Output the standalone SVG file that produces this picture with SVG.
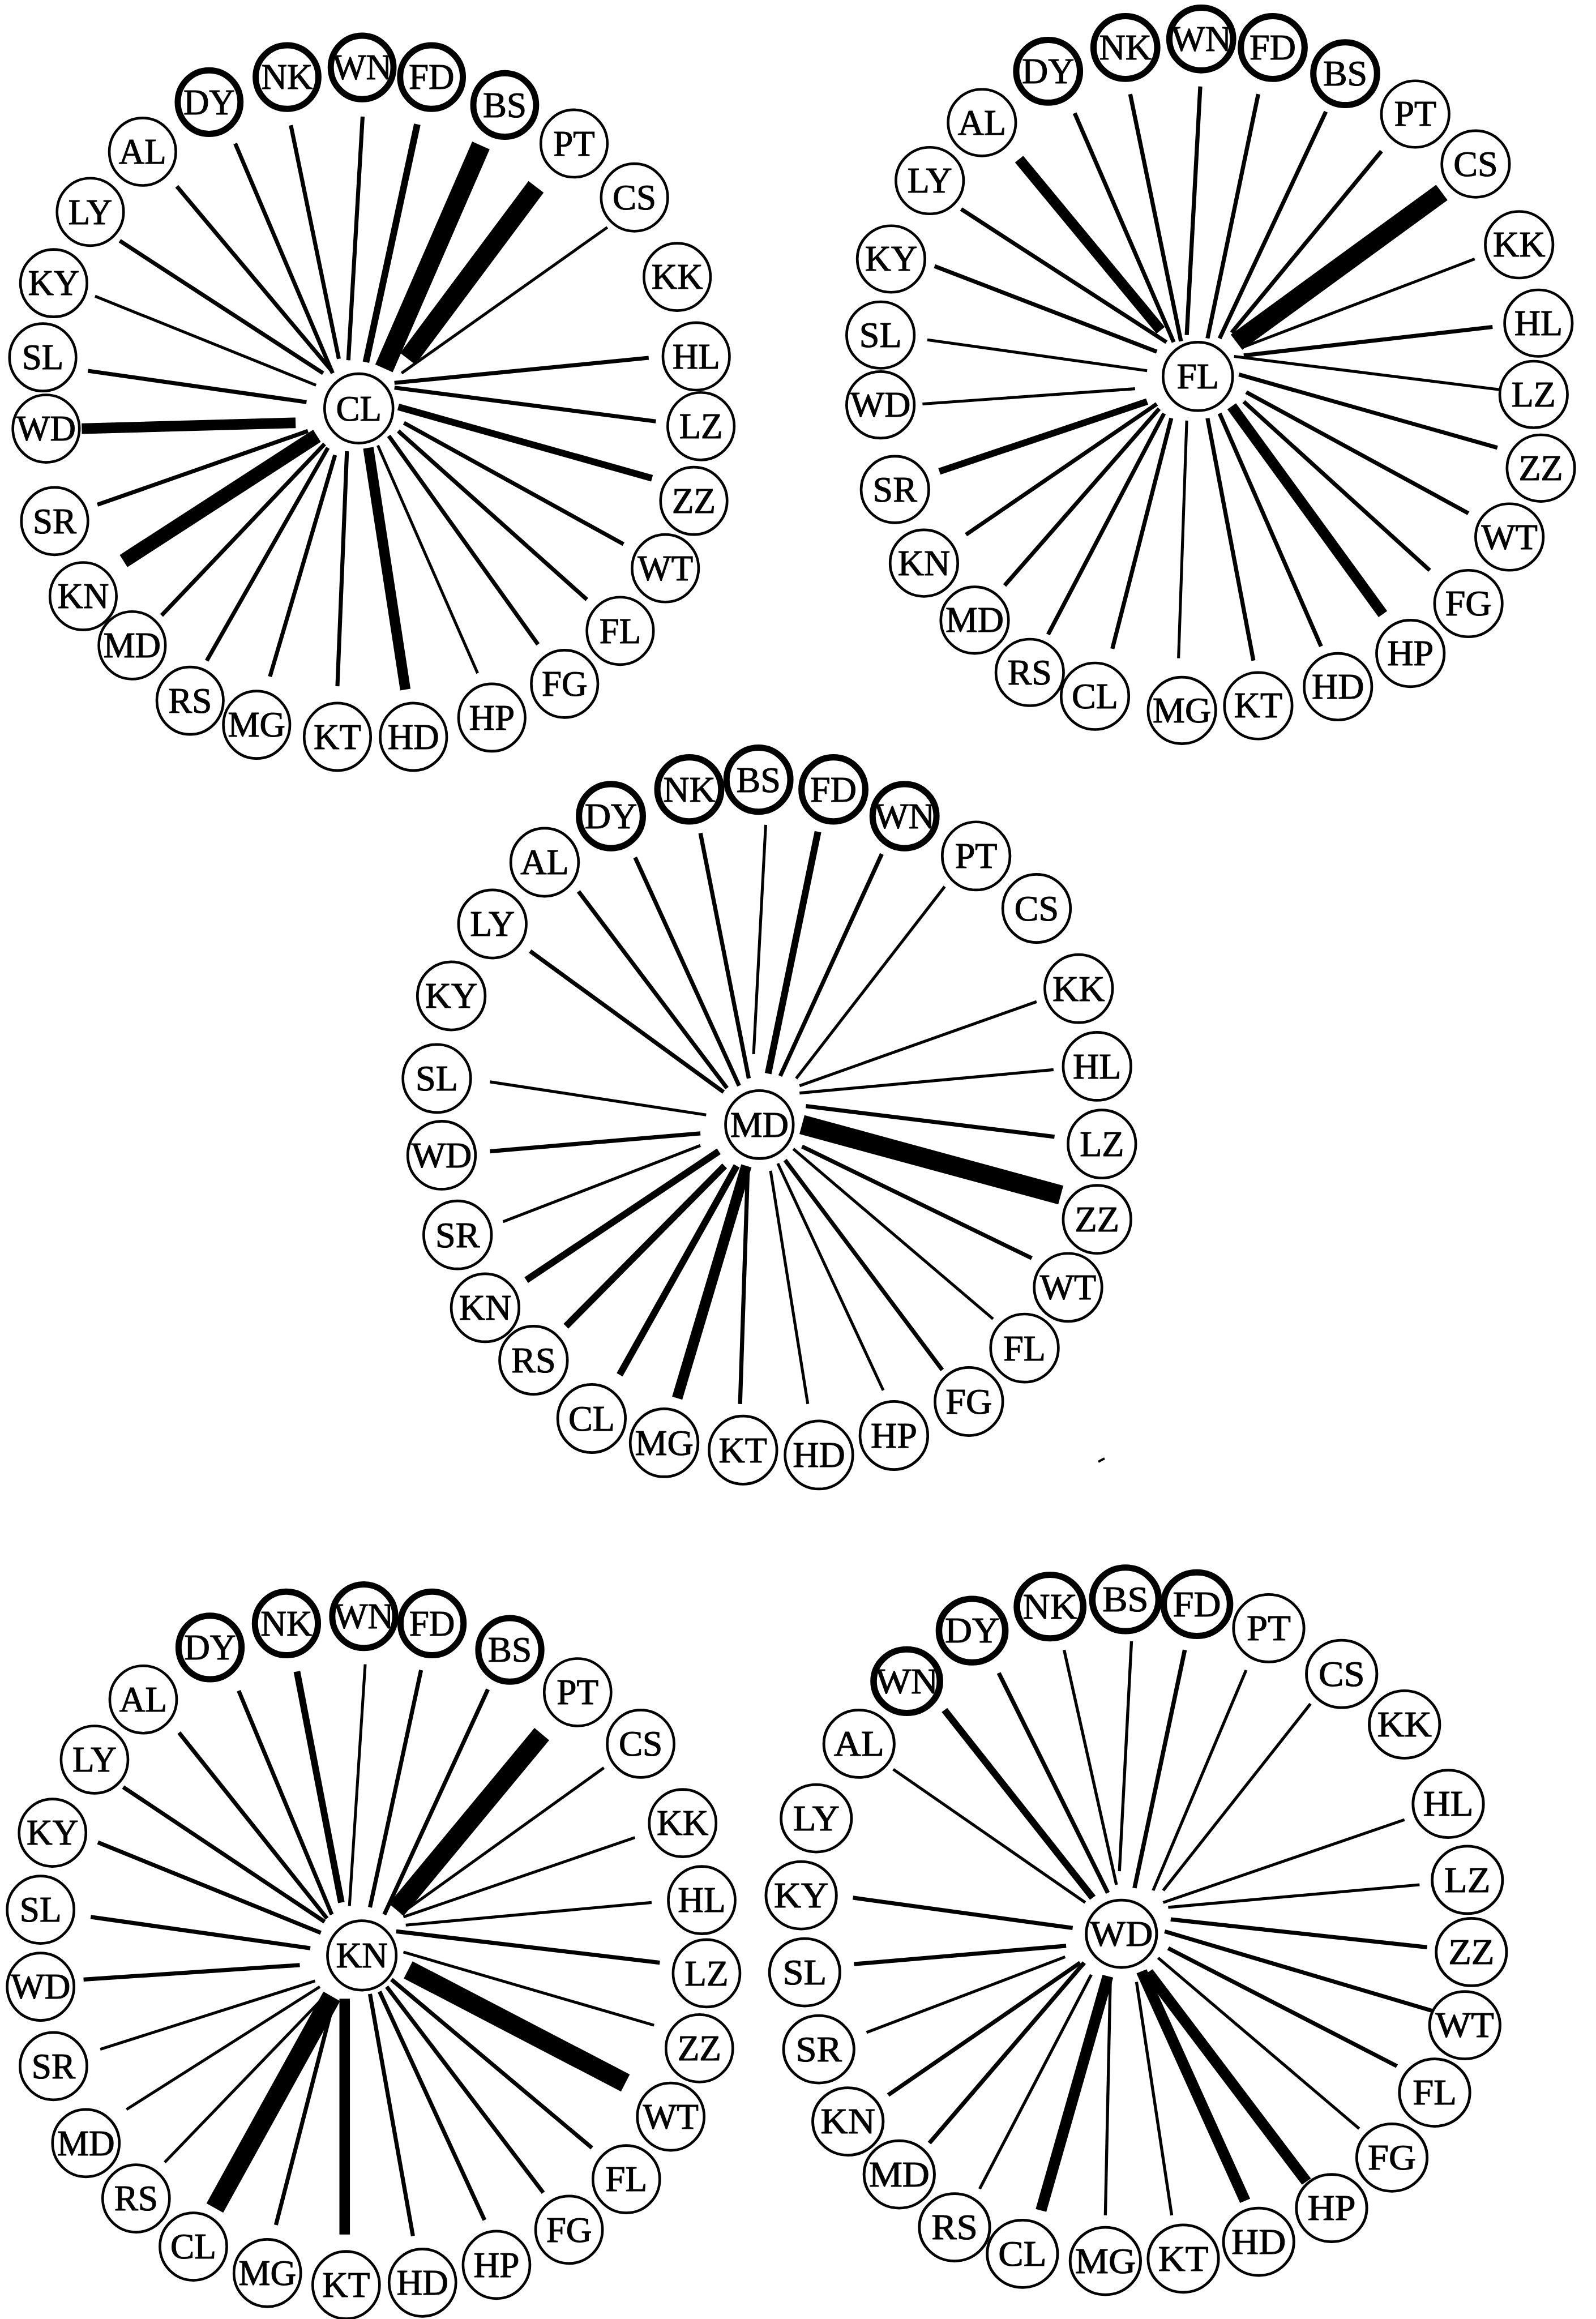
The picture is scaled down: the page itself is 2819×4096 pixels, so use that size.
<svg xmlns="http://www.w3.org/2000/svg" width="2819" height="4096" viewBox="0 0 2819 4096">
<style>
.n circle{fill:#fff;stroke:#000;stroke-width:5.5}
.n.b circle{stroke-width:13}
.n text{font-family:"Liberation Serif","DejaVu Serif",serif;font-size:75px;text-anchor:middle;fill:#000;stroke:#000;stroke-width:1.3}
.e line{stroke:#000;stroke-linecap:butt}
.s{stroke-width:6}.t{stroke-width:8.5}.m{stroke-width:14}.k{stroke-width:22}.w{stroke-width:30}.x{stroke-width:40}
</style>
<rect width="2819" height="4096" fill="#fff"/>

<g id="wheel-CL" transform="matrix(0.8394 0 0 0.8506 0 0)">
<g id="w1-edges" class="e">
<line class="t" x1="372" y1="387" x2="698" y2="770"/>
<line class="t" x1="252" y1="500" x2="680" y2="775"/>
<line class="s" x1="200" y1="615" x2="665" y2="800"/>
<line class="t" x1="185" y1="770" x2="645" y2="835"/>
<line class="k" x1="172" y1="890" x2="622" y2="878"/>
<line class="t" x1="205" y1="1048" x2="648" y2="895"/>
<line class="w" x1="260" y1="1165" x2="667" y2="905"/>
<line class="t" x1="340" y1="1278" x2="683" y2="922"/>
<line class="t" x1="435" y1="1372" x2="690" y2="930"/>
<line class="t" x1="568" y1="1405" x2="705" y2="945"/>
<line class="t" x1="710" y1="1425" x2="730" y2="937"/>
<line class="k" x1="853" y1="1432" x2="775" y2="930"/>
<line class="s" x1="1005" y1="1398" x2="795" y2="925"/>
<line class="t" x1="1132" y1="1338" x2="818" y2="905"/>
<line class="t" x1="1235" y1="1245" x2="838" y2="895"/>
<line class="t" x1="1312" y1="1130" x2="850" y2="878"/>
<line class="m" x1="1372" y1="993" x2="838" y2="845"/>
<line class="t" x1="1380" y1="875" x2="830" y2="805"/>
<line class="t" x1="1365" y1="743" x2="830" y2="795"/>
<line class="s" x1="1278" y1="472" x2="845" y2="775"/>
<line class="x" x1="1128" y1="388" x2="858" y2="745"/>
<line class="x" x1="1012" y1="302" x2="808" y2="765"/>
<line class="m" x1="878" y1="258" x2="770" y2="752"/>
<line class="t" x1="763" y1="242" x2="733" y2="748"/>
<line class="t" x1="612" y1="260" x2="713" y2="745"/>
<line class="t" x1="495" y1="298" x2="700" y2="775"/>
</g>
<g id="w1-CL" class="n"><circle cx="755" cy="848" r="72"/><text x="755" y="873">CL</text></g>
<g id="w1-DY" class="n b"><circle cx="440" cy="212" r="66"/><text x="440" y="237">DY</text></g>
<g id="w1-NK" class="n b"><circle cx="604" cy="160" r="66"/><text x="604" y="185">NK</text></g>
<g id="w1-WN" class="n b"><circle cx="762" cy="140" r="66"/><text x="762" y="165">WN</text></g>
<g id="w1-FD" class="n b"><circle cx="908" cy="160" r="66"/><text x="908" y="185">FD</text></g>
<g id="w1-BS" class="n b"><circle cx="1062" cy="218" r="66"/><text x="1062" y="243">BS</text></g>
<g id="w1-PT" class="n"><circle cx="1208" cy="298" r="70"/><text x="1208" y="323">PT</text></g>
<g id="w1-CS" class="n"><circle cx="1335" cy="410" r="70"/><text x="1335" y="435">CS</text></g>
<g id="w1-KK" class="n"><circle cx="1425" cy="575" r="70"/><text x="1425" y="600">KK</text></g>
<g id="w1-HL" class="n"><circle cx="1465" cy="740" r="70"/><text x="1465" y="765">HL</text></g>
<g id="w1-LZ" class="n"><circle cx="1475" cy="885" r="70"/><text x="1475" y="910">LZ</text></g>
<g id="w1-ZZ" class="n"><circle cx="1460" cy="1040" r="70"/><text x="1460" y="1065">ZZ</text></g>
<g id="w1-WT" class="n"><circle cx="1400" cy="1180" r="70"/><text x="1400" y="1205">WT</text></g>
<g id="w1-FL" class="n"><circle cx="1305" cy="1310" r="70"/><text x="1305" y="1335">FL</text></g>
<g id="w1-FG" class="n"><circle cx="1188" cy="1420" r="70"/><text x="1188" y="1445">FG</text></g>
<g id="w1-HP" class="n"><circle cx="1035" cy="1490" r="70"/><text x="1035" y="1515">HP</text></g>
<g id="w1-HD" class="n"><circle cx="870" cy="1530" r="70"/><text x="870" y="1555">HD</text></g>
<g id="w1-KT" class="n"><circle cx="710" cy="1530" r="70"/><text x="710" y="1555">KT</text></g>
<g id="w1-MG" class="n"><circle cx="540" cy="1505" r="70"/><text x="540" y="1530">MG</text></g>
<g id="w1-RS" class="n"><circle cx="400" cy="1455" r="70"/><text x="400" y="1480">RS</text></g>
<g id="w1-MD" class="n"><circle cx="278" cy="1340" r="70"/><text x="278" y="1365">MD</text></g>
<g id="w1-KN" class="n"><circle cx="175" cy="1238" r="70"/><text x="175" y="1263">KN</text></g>
<g id="w1-SR" class="n"><circle cx="115" cy="1082" r="70"/><text x="115" y="1107">SR</text></g>
<g id="w1-WD" class="n"><circle cx="97" cy="890" r="70"/><text x="97" y="915">WD</text></g>
<g id="w1-SL" class="n"><circle cx="90" cy="742" r="70"/><text x="90" y="767">SL</text></g>
<g id="w1-KY" class="n"><circle cx="113" cy="588" r="70"/><text x="113" y="613">KY</text></g>
<g id="w1-LY" class="n"><circle cx="190" cy="440" r="70"/><text x="190" y="465">LY</text></g>
<g id="w1-AL" class="n"><circle cx="300" cy="315" r="70"/><text x="300" y="340">AL</text></g>
</g>

<g id="wheel-FL" transform="matrix(0.8533 0 0 0.8394 1480.05 0)">
<g id="w2-edges" class="e">
<line class="k" x1="375" y1="335" x2="668" y2="695"/>
<line class="t" x1="255" y1="440" x2="680" y2="720"/>
<line class="t" x1="200" y1="560" x2="660" y2="740"/>
<line class="s" x1="185" y1="715" x2="640" y2="780"/>
<line class="s" x1="175" y1="850" x2="615" y2="818"/>
<line class="m" x1="210" y1="992" x2="640" y2="845"/>
<line class="t" x1="265" y1="1125" x2="660" y2="850"/>
<line class="t" x1="345" y1="1232" x2="665" y2="860"/>
<line class="t" x1="435" y1="1335" x2="675" y2="870"/>
<line class="t" x1="568" y1="1365" x2="690" y2="880"/>
<line class="s" x1="705" y1="1385" x2="722" y2="885"/>
<line class="t" x1="860" y1="1390" x2="765" y2="880"/>
<line class="t" x1="1000" y1="1360" x2="790" y2="870"/>
<line class="k" x1="1128" y1="1292" x2="815" y2="855"/>
<line class="t" x1="1225" y1="1200" x2="840" y2="845"/>
<line class="t" x1="1305" y1="1080" x2="845" y2="825"/>
<line class="t" x1="1365" y1="942" x2="830" y2="788"/>
<line class="s" x1="1370" y1="820" x2="820" y2="750"/>
<line class="t" x1="1355" y1="688" x2="840" y2="748"/>
<line class="s" x1="1318" y1="545" x2="840" y2="730"/>
<line class="x" x1="1250" y1="405" x2="825" y2="720"/>
<line class="t" x1="1125" y1="318" x2="815" y2="700"/>
<line class="t" x1="1010" y1="235" x2="790" y2="712"/>
<line class="t" x1="870" y1="198" x2="765" y2="712"/>
<line class="t" x1="750" y1="182" x2="722" y2="705"/>
<line class="t" x1="605" y1="198" x2="710" y2="718"/>
<line class="t" x1="490" y1="238" x2="695" y2="720"/>
</g>
<g id="w2-FL" class="n"><circle cx="745" cy="792" r="72"/><text x="745" y="817">FL</text></g>
<g id="w2-DY" class="n b"><circle cx="435" cy="150" r="66"/><text x="435" y="175">DY</text></g>
<g id="w2-NK" class="n b"><circle cx="595" cy="100" r="66"/><text x="595" y="125">NK</text></g>
<g id="w2-WN" class="n b"><circle cx="752" cy="82" r="66"/><text x="752" y="107">WN</text></g>
<g id="w2-FD" class="n b"><circle cx="900" cy="100" r="66"/><text x="900" y="125">FD</text></g>
<g id="w2-BS" class="n b"><circle cx="1050" cy="155" r="66"/><text x="1050" y="180">BS</text></g>
<g id="w2-PT" class="n"><circle cx="1195" cy="240" r="70"/><text x="1195" y="265">PT</text></g>
<g id="w2-CS" class="n"><circle cx="1320" cy="345" r="70"/><text x="1320" y="370">CS</text></g>
<g id="w2-KK" class="n"><circle cx="1410" cy="515" r="70"/><text x="1410" y="540">KK</text></g>
<g id="w2-HL" class="n"><circle cx="1450" cy="680" r="70"/><text x="1450" y="705">HL</text></g>
<g id="w2-LZ" class="n"><circle cx="1440" cy="830" r="70"/><text x="1440" y="855">LZ</text></g>
<g id="w2-ZZ" class="n"><circle cx="1455" cy="985" r="70"/><text x="1455" y="1010">ZZ</text></g>
<g id="w2-WT" class="n"><circle cx="1390" cy="1130" r="70"/><text x="1390" y="1155">WT</text></g>
<g id="w2-FG" class="n"><circle cx="1305" cy="1270" r="70"/><text x="1305" y="1295">FG</text></g>
<g id="w2-HP" class="n"><circle cx="1185" cy="1375" r="70"/><text x="1185" y="1400">HP</text></g>
<g id="w2-HD" class="n"><circle cx="1035" cy="1445" r="70"/><text x="1035" y="1470">HD</text></g>
<g id="w2-KT" class="n"><circle cx="870" cy="1485" r="70"/><text x="870" y="1510">KT</text></g>
<g id="w2-MG" class="n"><circle cx="712" cy="1495" r="70"/><text x="712" y="1520">MG</text></g>
<g id="w2-CL" class="n"><circle cx="532" cy="1465" r="70"/><text x="532" y="1490">CL</text></g>
<g id="w2-RS" class="n"><circle cx="397" cy="1415" r="70"/><text x="397" y="1440">RS</text></g>
<g id="w2-MD" class="n"><circle cx="283" cy="1305" r="70"/><text x="283" y="1330">MD</text></g>
<g id="w2-KN" class="n"><circle cx="178" cy="1185" r="70"/><text x="178" y="1210">KN</text></g>
<g id="w2-SR" class="n"><circle cx="118" cy="1030" r="70"/><text x="118" y="1055">SR</text></g>
<g id="w2-WD" class="n"><circle cx="88" cy="852" r="70"/><text x="88" y="877">WD</text></g>
<g id="w2-SL" class="n"><circle cx="88" cy="705" r="70"/><text x="88" y="730">SL</text></g>
<g id="w2-KY" class="n"><circle cx="110" cy="545" r="70"/><text x="110" y="570">KY</text></g>
<g id="w2-LY" class="n"><circle cx="190" cy="380" r="70"/><text x="190" y="405">LY</text></g>
<g id="w2-AL" class="n"><circle cx="298" cy="258" r="70"/><text x="298" y="283">AL</text></g>
</g>

<g id="wheel-MD" transform="matrix(0.8544 0 0 0.8581 690.3 1287)">
<g id="w3-edges" class="e">
<line class="s" x1="205" y1="727" x2="652" y2="795"/>
<line class="t" x1="205" y1="870" x2="640" y2="833"/>
<line class="s" x1="232" y1="1015" x2="640" y2="858"/>
<line class="m" x1="280" y1="1135" x2="678" y2="870"/>
<line class="m" x1="362" y1="1230" x2="690" y2="900"/>
<line class="m" x1="473" y1="1330" x2="715" y2="900"/>
<line class="k" x1="592" y1="1378" x2="735" y2="900"/>
<line class="t" x1="722" y1="1390" x2="738" y2="905"/>
<line class="s" x1="862" y1="1390" x2="785" y2="910"/>
<line class="s" x1="1018" y1="1362" x2="800" y2="895"/>
<line class="t" x1="1140" y1="1320" x2="815" y2="888"/>
<line class="s" x1="1245" y1="1215" x2="832" y2="865"/>
<line class="t" x1="1325" y1="1090" x2="850" y2="860"/>
<line class="x" x1="1385" y1="960" x2="850" y2="815"/>
<line class="t" x1="1372" y1="840" x2="858" y2="777"/>
<line class="s" x1="1370" y1="702" x2="845" y2="750"/>
<line class="s" x1="1335" y1="562" x2="845" y2="735"/>
<line class="s" x1="1145" y1="325" x2="838" y2="720"/>
<line class="t" x1="1015" y1="258" x2="805" y2="715"/>
<line class="m" x1="883" y1="212" x2="780" y2="710"/>
<line class="s" x1="775" y1="198" x2="750" y2="670"/>
<line class="t" x1="640" y1="215" x2="740" y2="720"/>
<line class="t" x1="505" y1="265" x2="720" y2="735"/>
<line class="t" x1="388" y1="335" x2="695" y2="740"/>
<line class="t" x1="288" y1="458" x2="688" y2="748"/>
</g>
<g id="w3-MD" class="n"><circle cx="762" cy="815" r="70"/><text x="762" y="840">MD</text></g>
<g id="w3-DY" class="n b"><circle cx="455" cy="180" r="66"/><text x="455" y="205">DY</text></g>
<g id="w3-NK" class="n b"><circle cx="617" cy="125" r="66"/><text x="617" y="150">NK</text></g>
<g id="w3-BS" class="n b"><circle cx="760" cy="105" r="66"/><text x="760" y="130">BS</text></g>
<g id="w3-FD" class="n b"><circle cx="915" cy="125" r="66"/><text x="915" y="150">FD</text></g>
<g id="w3-WN" class="n b"><circle cx="1062" cy="180" r="66"/><text x="1062" y="205">WN</text></g>
<g id="w3-PT" class="n"><circle cx="1210" cy="262" r="70"/><text x="1210" y="287">PT</text></g>
<g id="w3-CS" class="n"><circle cx="1335" cy="370" r="70"/><text x="1335" y="395">CS</text></g>
<g id="w3-KK" class="n"><circle cx="1422" cy="535" r="70"/><text x="1422" y="560">KK</text></g>
<g id="w3-HL" class="n"><circle cx="1460" cy="695" r="70"/><text x="1460" y="720">HL</text></g>
<g id="w3-LZ" class="n"><circle cx="1470" cy="855" r="70"/><text x="1470" y="880">LZ</text></g>
<g id="w3-ZZ" class="n"><circle cx="1460" cy="1010" r="70"/><text x="1460" y="1035">ZZ</text></g>
<g id="w3-WT" class="n"><circle cx="1400" cy="1150" r="70"/><text x="1400" y="1175">WT</text></g>
<g id="w3-FL" class="n"><circle cx="1310" cy="1275" r="70"/><text x="1310" y="1300">FL</text></g>
<g id="w3-FG" class="n"><circle cx="1195" cy="1385" r="70"/><text x="1195" y="1410">FG</text></g>
<g id="w3-HP" class="n"><circle cx="1040" cy="1455" r="70"/><text x="1040" y="1480">HP</text></g>
<g id="w3-HD" class="n"><circle cx="885" cy="1495" r="70"/><text x="885" y="1520">HD</text></g>
<g id="w3-KT" class="n"><circle cx="728" cy="1485" r="70"/><text x="728" y="1510">KT</text></g>
<g id="w3-MG" class="n"><circle cx="565" cy="1470" r="70"/><text x="565" y="1495">MG</text></g>
<g id="w3-CL" class="n"><circle cx="415" cy="1420" r="70"/><text x="415" y="1445">CL</text></g>
<g id="w3-RS" class="n"><circle cx="295" cy="1300" r="70"/><text x="295" y="1325">RS</text></g>
<g id="w3-KN" class="n"><circle cx="195" cy="1192" r="70"/><text x="195" y="1217">KN</text></g>
<g id="w3-SR" class="n"><circle cx="138" cy="1042" r="70"/><text x="138" y="1067">SR</text></g>
<g id="w3-WD" class="n"><circle cx="105" cy="878" r="70"/><text x="105" y="903">WD</text></g>
<g id="w3-SL" class="n"><circle cx="95" cy="720" r="70"/><text x="95" y="745">SL</text></g>
<g id="w3-KY" class="n"><circle cx="125" cy="550" r="70"/><text x="125" y="575">KY</text></g>
<g id="w3-LY" class="n"><circle cx="210" cy="402" r="70"/><text x="210" y="427">LY</text></g>
<g id="w3-AL" class="n"><circle cx="318" cy="275" r="70"/><text x="318" y="300">AL</text></g>
</g>

<g id="wheel-KN" transform="matrix(0.8432 0 0 0.8499 0 2761.2)">
<g id="w4-edges" class="e">
<line class="t" x1="375" y1="352" x2="685" y2="738"/>
<line class="t" x1="258" y1="465" x2="680" y2="745"/>
<line class="t" x1="205" y1="580" x2="672" y2="768"/>
<line class="t" x1="190" y1="735" x2="650" y2="800"/>
<line class="t" x1="175" y1="865" x2="628" y2="835"/>
<line class="s" x1="210" y1="1010" x2="660" y2="868"/>
<line class="s" x1="265" y1="1135" x2="670" y2="880"/>
<line class="s" x1="345" y1="1245" x2="685" y2="895"/>
<line class="x" x1="450" y1="1340" x2="695" y2="900"/>
<line class="t" x1="578" y1="1375" x2="700" y2="905"/>
<line class="k" x1="722" y1="1395" x2="722" y2="905"/>
<line class="t" x1="865" y1="1398" x2="775" y2="895"/>
<line class="t" x1="1015" y1="1365" x2="795" y2="890"/>
<line class="t" x1="1138" y1="1308" x2="810" y2="880"/>
<line class="t" x1="1240" y1="1215" x2="820" y2="865"/>
<line class="x" x1="1310" y1="1080" x2="855" y2="845"/>
<line class="s" x1="1370" y1="960" x2="845" y2="808"/>
<line class="t" x1="1382" y1="830" x2="830" y2="765"/>
<line class="s" x1="1365" y1="705" x2="850" y2="752"/>
<line class="s" x1="1330" y1="570" x2="845" y2="735"/>
<line class="s" x1="1265" y1="425" x2="840" y2="728"/>
<line class="x" x1="1135" y1="355" x2="830" y2="720"/>
<line class="t" x1="1022" y1="262" x2="805" y2="730"/>
<line class="t" x1="882" y1="222" x2="775" y2="715"/>
<line class="s" x1="765" y1="210" x2="732" y2="712"/>
<line class="m" x1="622" y1="225" x2="715" y2="705"/>
<line class="t" x1="500" y1="265" x2="695" y2="730"/>
</g>
<g id="w4-KN" class="n"><circle cx="758" cy="815" r="72"/><text x="758" y="840">KN</text></g>
<g id="w4-DY" class="n b"><circle cx="440" cy="175" r="66"/><text x="440" y="200">DY</text></g>
<g id="w4-NK" class="n b"><circle cx="600" cy="125" r="66"/><text x="600" y="150">NK</text></g>
<g id="w4-WN" class="n b"><circle cx="762" cy="110" r="66"/><text x="762" y="135">WN</text></g>
<g id="w4-FD" class="n b"><circle cx="905" cy="125" r="66"/><text x="905" y="150">FD</text></g>
<g id="w4-BS" class="n b"><circle cx="1068" cy="180" r="66"/><text x="1068" y="205">BS</text></g>
<g id="w4-PT" class="n"><circle cx="1210" cy="268" r="70"/><text x="1210" y="293">PT</text></g>
<g id="w4-CS" class="n"><circle cx="1342" cy="375" r="70"/><text x="1342" y="400">CS</text></g>
<g id="w4-KK" class="n"><circle cx="1430" cy="540" r="70"/><text x="1430" y="565">KK</text></g>
<g id="w4-HL" class="n"><circle cx="1470" cy="700" r="70"/><text x="1470" y="725">HL</text></g>
<g id="w4-LZ" class="n"><circle cx="1480" cy="852" r="70"/><text x="1480" y="877">LZ</text></g>
<g id="w4-ZZ" class="n"><circle cx="1465" cy="1008" r="70"/><text x="1465" y="1033">ZZ</text></g>
<g id="w4-WT" class="n"><circle cx="1405" cy="1150" r="70"/><text x="1405" y="1175">WT</text></g>
<g id="w4-FL" class="n"><circle cx="1312" cy="1280" r="70"/><text x="1312" y="1305">FL</text></g>
<g id="w4-FG" class="n"><circle cx="1192" cy="1385" r="70"/><text x="1192" y="1410">FG</text></g>
<g id="w4-HP" class="n"><circle cx="1040" cy="1458" r="70"/><text x="1040" y="1483">HP</text></g>
<g id="w4-HD" class="n"><circle cx="885" cy="1495" r="70"/><text x="885" y="1520">HD</text></g>
<g id="w4-KT" class="n"><circle cx="725" cy="1500" r="70"/><text x="725" y="1525">KT</text></g>
<g id="w4-MG" class="n"><circle cx="560" cy="1475" r="70"/><text x="560" y="1500">MG</text></g>
<g id="w4-CL" class="n"><circle cx="405" cy="1420" r="70"/><text x="405" y="1445">CL</text></g>
<g id="w4-RS" class="n"><circle cx="285" cy="1320" r="70"/><text x="285" y="1345">RS</text></g>
<g id="w4-MD" class="n"><circle cx="180" cy="1205" r="70"/><text x="180" y="1230">MD</text></g>
<g id="w4-SR" class="n"><circle cx="112" cy="1045" r="70"/><text x="112" y="1070">SR</text></g>
<g id="w4-WD" class="n"><circle cx="85" cy="880" r="70"/><text x="85" y="905">WD</text></g>
<g id="w4-SL" class="n"><circle cx="85" cy="720" r="70"/><text x="85" y="745">SL</text></g>
<g id="w4-KY" class="n"><circle cx="110" cy="560" r="70"/><text x="110" y="585">KY</text></g>
<g id="w4-LY" class="n"><circle cx="198" cy="408" r="70"/><text x="198" y="433">LY</text></g>
<g id="w4-AL" class="n"><circle cx="300" cy="283" r="70"/><text x="300" y="308">AL</text></g>
</g>

<g id="wheel-WD" transform="matrix(0.8880 0 0 0.8499 1339.65 2761.2)">
<g id="w5-edges" class="e">
<line class="m" x1="370" y1="305" x2="665" y2="695"/>
<line class="s" x1="268" y1="428" x2="650" y2="705"/>
<line class="t" x1="478" y1="228" x2="695" y2="685"/>
<line class="s" x1="608" y1="180" x2="712" y2="668"/>
<line class="s" x1="742" y1="162" x2="718" y2="640"/>
<line class="t" x1="848" y1="180" x2="748" y2="675"/>
<line class="s" x1="970" y1="222" x2="785" y2="680"/>
<line class="s" x1="1098" y1="292" x2="805" y2="680"/>
<line class="s" x1="1285" y1="533" x2="805" y2="705"/>
<line class="s" x1="1315" y1="668" x2="815" y2="715"/>
<line class="t" x1="1330" y1="798" x2="820" y2="740"/>
<line class="t" x1="1340" y1="930" x2="808" y2="765"/>
<line class="t" x1="1270" y1="1045" x2="815" y2="800"/>
<line class="s" x1="1195" y1="1175" x2="795" y2="820"/>
<line class="k" x1="1090" y1="1285" x2="775" y2="850"/>
<line class="k" x1="968" y1="1325" x2="762" y2="848"/>
<line class="s" x1="822" y1="1355" x2="752" y2="870"/>
<line class="s" x1="690" y1="1355" x2="700" y2="860"/>
<line class="k" x1="562" y1="1345" x2="695" y2="858"/>
<line class="s" x1="440" y1="1300" x2="662" y2="855"/>
<line class="t" x1="340" y1="1205" x2="648" y2="830"/>
<line class="t" x1="258" y1="1105" x2="640" y2="830"/>
<line class="s" x1="215" y1="975" x2="610" y2="818"/>
<line class="t" x1="190" y1="833" x2="612" y2="795"/>
<line class="t" x1="188" y1="695" x2="625" y2="758"/>
</g>
<g id="w5-WD" class="n"><circle cx="722" cy="770" r="70"/><text x="722" y="795">WD</text></g>
<g id="w5-WN" class="n b"><circle cx="295" cy="245" r="66"/><text x="295" y="270">WN</text></g>
<g id="w5-DY" class="n b"><circle cx="425" cy="140" r="66"/><text x="425" y="165">DY</text></g>
<g id="w5-NK" class="n b"><circle cx="580" cy="90" r="66"/><text x="580" y="115">NK</text></g>
<g id="w5-BS" class="n b"><circle cx="730" cy="75" r="66"/><text x="730" y="100">BS</text></g>
<g id="w5-FD" class="n b"><circle cx="872" cy="85" r="66"/><text x="872" y="110">FD</text></g>
<g id="w5-PT" class="n"><circle cx="1015" cy="135" r="70"/><text x="1015" y="160">PT</text></g>
<g id="w5-CS" class="n"><circle cx="1160" cy="230" r="70"/><text x="1160" y="255">CS</text></g>
<g id="w5-KK" class="n"><circle cx="1285" cy="335" r="70"/><text x="1285" y="360">KK</text></g>
<g id="w5-HL" class="n"><circle cx="1372" cy="500" r="70"/><text x="1372" y="525">HL</text></g>
<g id="w5-LZ" class="n"><circle cx="1410" cy="658" r="70"/><text x="1410" y="683">LZ</text></g>
<g id="w5-ZZ" class="n"><circle cx="1418" cy="808" r="70"/><text x="1418" y="833">ZZ</text></g>
<g id="w5-WT" class="n"><circle cx="1405" cy="960" r="70"/><text x="1405" y="985">WT</text></g>
<g id="w5-FL" class="n"><circle cx="1345" cy="1100" r="70"/><text x="1345" y="1125">FL</text></g>
<g id="w5-FG" class="n"><circle cx="1260" cy="1235" r="70"/><text x="1260" y="1260">FG</text></g>
<g id="w5-HP" class="n"><circle cx="1140" cy="1340" r="70"/><text x="1140" y="1365">HP</text></g>
<g id="w5-HD" class="n"><circle cx="995" cy="1410" r="70"/><text x="995" y="1435">HD</text></g>
<g id="w5-KT" class="n"><circle cx="845" cy="1445" r="70"/><text x="845" y="1470">KT</text></g>
<g id="w5-MG" class="n"><circle cx="690" cy="1450" r="70"/><text x="690" y="1475">MG</text></g>
<g id="w5-CL" class="n"><circle cx="525" cy="1435" r="70"/><text x="525" y="1460">CL</text></g>
<g id="w5-RS" class="n"><circle cx="390" cy="1380" r="70"/><text x="390" y="1405">RS</text></g>
<g id="w5-MD" class="n"><circle cx="280" cy="1270" r="70"/><text x="280" y="1295">MD</text></g>
<g id="w5-KN" class="n"><circle cx="178" cy="1160" r="70"/><text x="178" y="1185">KN</text></g>
<g id="w5-SR" class="n"><circle cx="120" cy="1010" r="70"/><text x="120" y="1035">SR</text></g>
<g id="w5-SL" class="n"><circle cx="92" cy="850" r="70"/><text x="92" y="875">SL</text></g>
<g id="w5-KY" class="n"><circle cx="85" cy="690" r="70"/><text x="85" y="715">KY</text></g>
<g id="w5-LY" class="n"><circle cx="115" cy="530" r="70"/><text x="115" y="555">LY</text></g>
<g id="w5-AL" class="n"><circle cx="200" cy="375" r="70"/><text x="200" y="400">AL</text></g>
</g>

<path d="M1940 2582 L1945 2579 L1951 2576" fill="none" stroke="#000" stroke-width="4"/>
</svg>
